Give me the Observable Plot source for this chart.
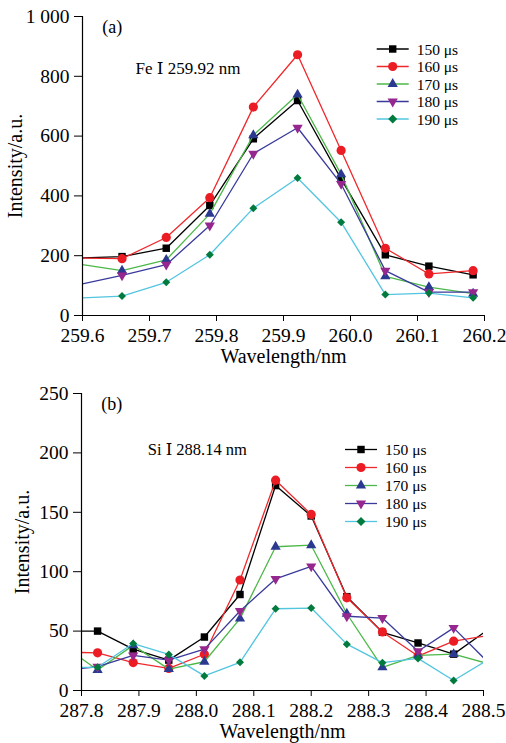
<!DOCTYPE html>
<html><head><meta charset="utf-8">
<script src="https://cdn.jsdelivr.net/npm/d3@7"></script>
<script src="https://cdn.jsdelivr.net/npm/@observablehq/plot@0.6"></script>
<style>
body{margin:0;background:#fff;}
#chart{width:506px;height:743px;}
svg{display:block;}
</style>
</head><body><div id="chart"></div>
<script>
// ---- series styling/names ----
const seriesNames = ["150 μs","160 μs","170 μs","180 μs","190 μs"];
const lineColors = ["#000000","#f0282c","#4cb848","#3a3a9c","#52c5e0"];
const markerColors = ["#000000","#ec1c24","#2b3990","#96278f","#007a3d"];
const markerSymbols = ["square","circle","triangle","triangle","diamond2"];
const markerRotate = [0,0,0,180,0];
const markerR = [4.2,4.6,3.8,3.8,3.6];

// ---- panel (a): Fe I 259.92 nm ----
// first value is where each line meets the left axis (no marker drawn there)
const wlA = [259.6, 259.659, 259.725, 259.790, 259.855, 259.921, 259.986, 260.052, 260.117, 260.183];
const feA150 = [193, 197, 225, 368, 591, 719, 457, 203, 165, 136];
const feA160 = [192, 190, 261, 394, 697, 872, 552, 225, 139, 150];
const feA170 = [170, 150, 186, 340, 603, 739, 472, 131, 95, 73];
const feA180 = [106, 134, 170, 301, 541, 628, 440, 150, 78, 78];
const feA190 = [59, 65, 111, 203, 359, 460, 312, 70, 75, 59];
const xTicksA = [259.6, 259.7, 259.8, 259.9, 260.0, 260.1, 260.2];
const yTicksA = [0, 200, 400, 600, 800, 1000];
const yTickLabelsA = ["0", "200", "400", "600", "800", "1 000"];

// ---- panel (b): Si I 288.14 nm ----
// first and last values are where lines meet the plot edges (no markers there)
const wlB = [287.8, 287.828, 287.890, 287.952, 288.014, 288.076, 288.138, 288.200, 288.262, 288.324, 288.386, 288.448, 288.5];
const siB150 = [50, 50, 34.8, 25.6, 45, 80.8, 172.5, 146.9, 79, 49, 40, 30.6, 48.5];
const siB160 = [32, 31.7, 23.5, 18.6, 30.5, 93, 177, 148.2, 78, 49.3, 29, 41.5, 45.7];
const siB170 = [27, 17.3, 38, 18, 24.2, 60.5, 121, 122.3, 64.6, 19.5, 29.5, 30.6, 23.7];
const siB180 = [18.6, 20, 29.5, 25.6, 34.8, 66.9, 93.9, 104.5, 62.5, 61, 33, 52.7, 27.6];
const siB190 = [19.5, 19.5, 39.5, 30.4, 12.3, 23.7, 68.8, 69.4, 39, 23.4, 27, 8.4, 23.7];
const xTicksB = [287.8, 287.9, 288.0, 288.1, 288.2, 288.3, 288.4, 288.5];
const yTicksB = [0, 50, 100, 150, 200, 250];
const yTickLabelsB = ["0", "50", "100", "150", "200", "250"];

const xLabel = "Wavelength/nm";
const yLabel = "Intensity/a.u.";
const FONT = "'Liberation Serif','Times New Roman','DejaVu Serif',serif";

function panel(cfg) {
  const marks = [];
  const n = cfg.x.length;
  cfg.series.forEach((vals, i) => {
    const data = vals.map((v, j) => ({x: cfg.x[j], y: v, marker: cfg.markerIdx(j, n)}));
    marks.push(Plot.line(data, {x: "x", y: "y", stroke: lineColors[i], strokeWidth: 1.3, clip: true}));
    marks.push(Plot.dot(data.filter(d => d.marker), {
      x: "x", y: "y", symbol: markerSymbols[i], r: markerR[i], rotate: markerRotate[i],
      fill: markerColors[i], stroke: "none"
    }));
  });
  marks.push(Plot.ruleX([cfg.xDomain[0]], {stroke: "black", strokeWidth: 1.2}));
  marks.push(Plot.ruleY([cfg.yDomain[0]], {stroke: "black", strokeWidth: 1.2}));
  marks.push(Plot.axisX({ticks: cfg.xTicks, tickFormat: d3.format(".1f"), tickSize: 6, tickPadding: cfg.xTickPad, label: null, fontSize: 19.5}));
  marks.push(Plot.axisY({ticks: cfg.yTicks, tickFormat: d => cfg.yTickLabels[cfg.yTicks.indexOf(d)], tickSize: 8, tickPadding: 5, label: null, fontSize: 19.5}));
  marks.push(Plot.text([xLabel], {text: d => d, frameAnchor: "bottom", dy: cfg.xLabelDy, lineAnchor: "middle", fontSize: 20}));
  marks.push(Plot.text([yLabel], {text: d => d, frameAnchor: "left", dx: cfg.yLabelDx, rotate: -90, textAnchor: "middle", lineAnchor: "middle", fontSize: 20}));
  marks.push(Plot.text([cfg.tag], {text: d => d, frameAnchor: "top-left", dx: cfg.tagDx, dy: cfg.tagDy, textAnchor: "start", lineAnchor: "middle", fontSize: 18}));
  marks.push(Plot.text([cfg.note], {text: d => d, frameAnchor: "top-left", dx: cfg.noteDx, dy: cfg.noteDy, textAnchor: "start", lineAnchor: "middle", fontSize: cfg.noteSize}));

  const svg = Plot.plot({
    width: 506, height: cfg.height,
    marginTop: cfg.mt, marginBottom: cfg.mb, marginLeft: cfg.ml, marginRight: cfg.mr,
    x: {domain: cfg.xDomain},
    y: {domain: cfg.yDomain},
    style: {fontFamily: FONT, fontSize: "19.5px", color: "black", background: "white", overflow: "visible"},
    marks
  });

  // legend
  const s = d3.select(svg);
  const g = s.append("g").attr("font-family", FONT).attr("font-size", "15.5px").attr("text-anchor", "start");
  seriesNames.forEach((name, i) => {
    const y = cfg.legY + i * cfg.legStep;
    g.append("line").attr("x1", cfg.legX).attr("x2", cfg.legX + 32).attr("y1", y).attr("y2", y)
      .attr("stroke", lineColors[i]).attr("stroke-width", 1.3);
    const symType = {square: d3.symbolSquare, circle: d3.symbolCircle, triangle: d3.symbolTriangle, diamond2: d3.symbolSquare}[markerSymbols[i]];
    const rot = markerSymbols[i] === "diamond2" ? 45 : markerRotate[i];
    g.append("path").attr("d", d3.symbol(symType, Math.PI * markerR[i] * markerR[i])())
      .attr("transform", `translate(${cfg.legX + 16},${y}) rotate(${rot})`)
      .attr("fill", markerColors[i]);
    g.append("text").attr("x", cfg.legX + 40).attr("y", y + 5.5).attr("fill", "black")
      .attr("text-anchor", "start").text(name);
  });
  return svg;
}

const root = document.getElementById("chart");
root.append(panel({
  x: wlA, series: [feA150, feA160, feA170, feA180, feA190],
  markerIdx: (j, n) => j > 0,
  xDomain: [259.6, 260.2], yDomain: [0, 1000],
  xTicks: xTicksA, yTicks: yTicksA, yTickLabels: yTickLabelsA,
  height: 372, mt: 16, mb: 57, ml: 82, mr: 22,
  xTickPad: 7, xLabelDy: 40.6, yLabelDx: -67,
  tag: "(a)", tagDx: 19.7, tagDy: 10.7,
  note: "Fe Ⅰ 259.92 nm", noteDx: 53, noteDy: 51.6, noteSize: 17,
  legX: 376.7, legY: 49, legStep: 17.5
}));
root.append(panel({
  x: wlB, series: [siB150, siB160, siB170, siB180, siB190],
  markerIdx: (j, n) => j > 0 && j < n - 1,
  xDomain: [287.8, 288.5], yDomain: [0, 250],
  xTicks: xTicksB, yTicks: yTicksB, yTickLabels: yTickLabelsB,
  height: 371, mt: 21, mb: 53, ml: 81, mr: 23,
  xTickPad: 7, xLabelDy: 40.6, yLabelDx: -59,
  tag: "(b)", tagDx: 19.7, tagDy: 10.9,
  note: "Si Ⅰ 288.14 nm", noteDx: 66.3, noteDy: 56.4, noteSize: 16.5,
  legX: 345, legY: 77.5, legStep: 18
}));
</script>
</body></html>
